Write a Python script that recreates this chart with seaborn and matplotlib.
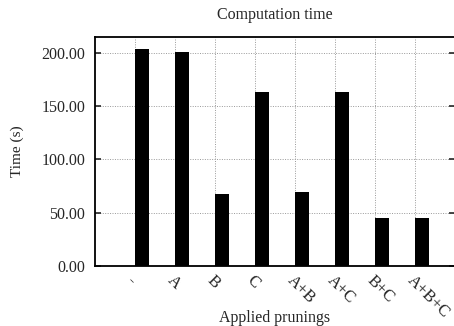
import matplotlib
matplotlib.use("Agg")
import matplotlib.pyplot as plt
import seaborn as sns
import pandas as pd

# data
prunings = ["-", "A", "B", "C", "A+B", "A+C", "B+C", "A+B+C"]
times = [203.8, 201.2, 67.3, 163.4, 69.1, 163.6, 44.7, 44.7]

df = pd.DataFrame({"pruning": prunings, "time": times})

sns.set_style("white")
plt.rcParams["font.family"] = ["Liberation Serif", "DejaVu Serif"]
plt.rcParams["font.size"] = 11.5

fig = plt.figure(figsize=(4.54, 3.26), dpi=100)
ax = fig.add_axes([95 / 454, 1 - 266 / 326, 360 / 454, 229 / 326])

bar_w = 0.36
sns.barplot(data=df, x="pruning", y="time", order=prunings, color="black",
            width=bar_w, saturation=1, edgecolor="black", linewidth=0,
            ax=ax, zorder=3)

# gnuplot-style: tick sits at the left edge of each bar
pos = [i - bar_w / 2 for i in range(len(prunings))]
ax.set_xticks(pos)
ax.set_xticklabels(prunings, rotation=-45, ha="left", va="top",
                   rotation_mode="anchor", fontsize=12)
ax.set_xlim(pos[0] - 1, pos[0] + 8)
ax.set_ylim(0, 215)
ax.set_yticks([0, 50, 100, 150, 200])
ax.set_yticklabels([f"{v:.2f}" for v in [0, 50, 100, 150, 200]])

ax.grid(True, linestyle=(0, (1, 1.5)), color="#999999", linewidth=0.7, zorder=0)
ax.tick_params(axis="y", direction="in", length=4, width=1.2, right=True,
               left=True, pad=7)
ax.tick_params(axis="x", length=0, pad=5)
for s in ax.spines.values():
    s.set_linewidth(1.3)
    s.set_color("black")
    s.set_visible(True)

ax.set_title("Computation time", fontsize=11.5, y=1.078, pad=0)
ax.set_xlabel("Applied prunings", fontsize=11.5, va="center")
ax.xaxis.set_label_coords(0.5, -0.227)
ax.set_ylabel("Time (s)", fontsize=11, va="center")
ax.yaxis.set_label_coords(-0.217, 0.5)

fig.savefig("out.png", dpi=100)
